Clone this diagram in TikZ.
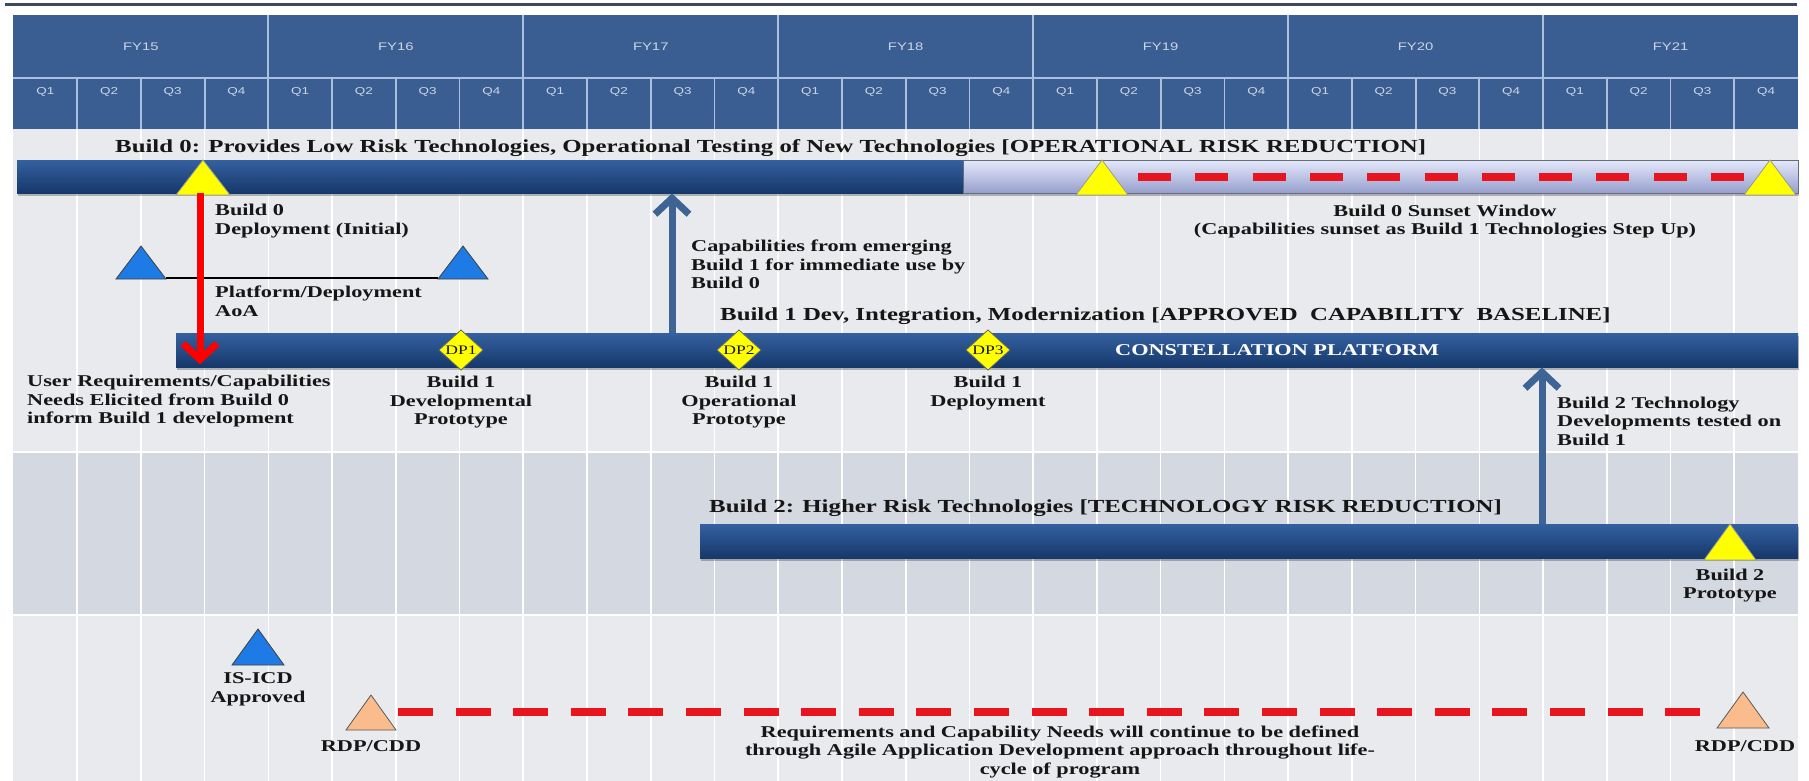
\documentclass[tikz,border=0pt]{standalone}
\usepackage{fontspec}
\setmainfont{Liberation Serif}
\newfontfamily\hdrfont{Liberation Sans}
\usepackage{graphicx}
\usetikzlibrary{arrows.meta,shadows}
\definecolor{hdr}{RGB}{58,94,145}
\definecolor{hdrline}{RGB}{170,192,222}
\definecolor{hdrtxt}{RGB}{205,214,230}
\definecolor{bodyA}{RGB}{233,234,237}
\definecolor{bodyB}{RGB}{212,216,225}
\definecolor{barTop}{RGB}{52,96,160}
\definecolor{barMid}{RGB}{32,78,142}
\definecolor{barBot}{RGB}{22,56,106}
\definecolor{sunTop}{RGB}{228,232,250}
\definecolor{sunMid}{RGB}{204,210,240}
\definecolor{sunBot}{RGB}{150,158,205}
\definecolor{arrowblue}{RGB}{62,100,150}
\definecolor{myyellow}{RGB}{255,255,0}
\definecolor{triblue}{RGB}{30,122,228}
\definecolor{peach}{RGB}{250,188,140}
\definecolor{redash}{RGB}{232,20,30}
\definecolor{txt}{RGB}{22,22,22}
\definecolor{topline}{RGB}{60,74,92}

\newcommand{\st}[1]{\scalebox{1.35}[1]{#1}}
\newcommand{\lt}[1]{\st{\begin{tabular}[t]{@{}l@{}}#1\end{tabular}}}
\newcommand{\ct}[1]{\st{\begin{tabular}[t]{@{}c@{}}#1\end{tabular}}}
\newcommand{\mktri}[6]{%
  \filldraw[fill=#5, draw=#6, line width=0.8pt, line join=miter]
    (#1-#3,#2) -- (#1,#2-#4) -- (#1+#3,#2) -- cycle;}
\newcommand{\mkdia}[4]{%
  \filldraw[fill=myyellow, draw=black!60, line width=0.8pt]
    (#1,#2-20) -- (#1+22,#2) -- (#1,#2+20) -- (#1-22,#2) -- cycle;
  \node[font=\fontsize{13}{14}\selectfont, text=txt, inner sep=0] (#4) at (#1,#2) {\st{#3}};}

\tikzset{
  lbl/.style={inner sep=0, text=txt, font=\fontsize{16.5}{18.5}\selectfont\bfseries},
  ttl/.style={inner sep=0, text=txt, font=\fontsize{18.4}{21}\selectfont\bfseries, anchor=base west},
  barshadow/.style={drop shadow={shadow xshift=1pt, shadow yshift=-2.5pt, opacity=0.25, fill=black}},
  bar/.style={inner sep=0, anchor=north west, top color=barTop, middle color=barMid, bottom color=barBot, draw=none, barshadow},
  sunbar/.style={inner sep=0, anchor=north west, top color=sunTop, middle color=sunMid, bottom color=sunBot, draw=topline!80, line width=0.8pt, barshadow},
  gridline/.style={white, line width=1.6pt},
  hline/.style={hdrline, line width=1.8pt},
  fytxt/.style={inner sep=0, text=hdrtxt, font=\hdrfont\fontsize{11}{12}\selectfont},
  qtxt/.style={inner sep=0, text=hdrtxt, font=\hdrfont\fontsize{10}{11}\selectfont},
  redarr/.style={draw=red, line width=7pt, -{Straight Barb[length=16pt,width=34pt]}},
  bluearr/.style={draw=arrowblue, line width=7pt, -{Straight Barb[length=16pt,width=34pt]}},
  dashline/.style={draw=redash, line width=7.5pt},
}

\begin{document}
\begin{tikzpicture}[x=1pt,y=-1pt]
\useasboundingbox (0,0) rectangle (1809,781);
% top rule
\coordinate (tl1) at (5,5);
\coordinate (tl2) at (1797,5);
\draw[topline, line width=3pt] (tl1) -- (tl2);
% body
\fill[bodyA] (13.4,129) rectangle (1798,781);
\fill[bodyB] (13.4,452) rectangle (1798,615);
\foreach \k in {1,...,27} {
  \draw[gridline] ({13.4+\k*63.736},129) -- ({13.4+\k*63.736},781);
}
\draw[gridline] (13.4,452) -- (1798,452);
\draw[gridline] (13.4,615) -- (1798,615);
% header
\fill[hdr] (13.4,15) rectangle (1798,129);
\draw[hline] (13.4,78) -- (1798,78);
\foreach \k in {1,...,27} {
  \pgfmathtruncatemacro\r{mod(\k,4)}
  \ifnum\r=0
    \draw[hline] ({13.4+\k*63.736},15) -- ({13.4+\k*63.736},129);
  \else
    \draw[hline] ({13.4+\k*63.736},78) -- ({13.4+\k*63.736},129);
  \fi
}
\foreach \y [count=\i from 0] in {15,...,21} {
  \node[fytxt] (fy\y) at ({13.4+(4*\i+2)*63.736},47) {\st{FY\y}};
}
\foreach \k in {0,...,27} {
  \pgfmathtruncatemacro\q{mod(\k,4)+1}
  \node[qtxt] (q\k) at ({13.4+(\k+0.5)*63.736},92) {\st{Q\q}};
}

% bars
\node[bar, minimum width=946, minimum height=33] (b0) at (17,160) {};
\node[sunbar, minimum width=835, minimum height=33] (b0s) at (963,160) {};
\node[bar, minimum width=1622, minimum height=34] (c1) at (176,333) {};
\node[bar, minimum width=1098, minimum height=34] (b2) at (700,524) {};

% dashed sunset / requirements lines
\coordinate (d1a) at (1138,177);
\coordinate (d1b) at (1744,177);
\draw[dashline, dash pattern=on 33pt off 24.3pt] (d1a) -- (d1b);
\coordinate (d2a) at (398,712);
\coordinate (d2b) at (1703,712);
\draw[dashline, dash pattern=on 35pt off 22.6pt] (d2a) -- (d2b);

% AoA line
\coordinate (aoa1) at (166,278);
\coordinate (aoa2) at (438,278);
\draw[black, line width=1.6pt] (aoa1) -- (aoa2);

% triangles
\mktri{203}{195}{27}{35}{myyellow}{black!40}
\mktri{1102}{195}{26}{35}{myyellow}{black!40}
\mktri{1770}{195}{26}{35}{myyellow}{black!40}
\mktri{1730}{560}{26}{36}{myyellow}{black!40}
\mktri{141}{279}{25}{33}{triblue}{black!75}
\mktri{463}{279}{25}{33}{triblue}{black!75}
\mktri{258}{665}{26}{36}{triblue}{black!75}
\mktri{371}{730}{25}{35}{peach}{black!65}
\mktri{1743}{728}{26}{36}{peach}{black!65}

% diamonds
\mkdia{461}{350}{DP1}{dp1}
\mkdia{739}{350}{DP2}{dp2}
\mkdia{988}{350}{DP3}{dp3}

% arrows
\coordinate (rx) at (200,0);
\draw[redarr, shorten >=3pt] (b0.south -| rx) -- (c1.south -| rx);
\coordinate (bx1) at (672,0);
\draw[bluearr] (c1.north -| bx1) -- (b0.south -| bx1);
\coordinate (bx2) at (1542,0);
\draw[bluearr] (b2.north -| bx2) -- (c1.south -| bx2);

% texts
\node[ttl] (t0) at (115,153) {\st{Build 0: Provides Low Risk Technologies, Operational Testing of New Technologies [OPERATIONAL RISK REDUCTION]}};
\node[lbl, anchor=base west] (l0) at (215,215.5) {\lt{Build 0\\Deployment (Initial)}};
\node[lbl, anchor=base] (sun) at (1445,216) {\ct{Build 0 Sunset Window\\(Capabilities sunset as Build 1 Technologies Step Up)}};
\node[lbl, anchor=base west] (aoa) at (215,297.5) {\lt{Platform/Deployment\\AoA}};
\node[lbl, anchor=base west] (cap) at (691,251.5) {\lt{Capabilities from emerging\\Build 1 for immediate use by\\Build 0}};
\node[ttl] (t1) at (720,320) {\st{Build 1 Dev, Integration, Modernization [APPROVED\ \ CAPABILITY\ \ BASELINE]}};
\node[lbl, anchor=base west, text=white] (cp) at (1115,355.5) {\st{CONSTELLATION PLATFORM}};
\node[lbl, anchor=base west] (ur) at (27,386.5) {\lt{User Requirements/Capabilities\\Needs Elicited from Build 0\\inform Build 1 development}};
\node[lbl, anchor=base] (d1l) at (461,387.5) {\ct{Build 1\\Developmental\\Prototype}};
\node[lbl, anchor=base] (d2l) at (739,387.5) {\ct{Build 1\\Operational\\Prototype}};
\node[lbl, anchor=base] (d3l) at (988,387.5) {\ct{Build 1\\Deployment}};
\node[lbl, anchor=base west] (b2t) at (1557,408) {\lt{Build 2 Technology\\Developments tested on\\Build 1}};
\node[ttl] (t2) at (709,512) {\st{Build 2: Higher Risk Technologies [TECHNOLOGY RISK REDUCTION]}};
\node[lbl, anchor=base] (b2p) at (1730,580) {\ct{Build 2\\Prototype}};
\node[lbl, anchor=base] (icd) at (258,683.5) {\ct{IS-ICD\\Approved}};
\node[lbl, anchor=base] (rdp1) at (371,751) {\st{RDP/CDD}};
\node[lbl, anchor=base] (rdp2) at (1745,751) {\st{RDP/CDD}};
\node[lbl, anchor=base] (req) at (1060,737) {\ct{Requirements and Capability Needs will continue to be defined\\through Agile Application Development approach throughout life-\\cycle of program}};
\end{tikzpicture}
\end{document}
